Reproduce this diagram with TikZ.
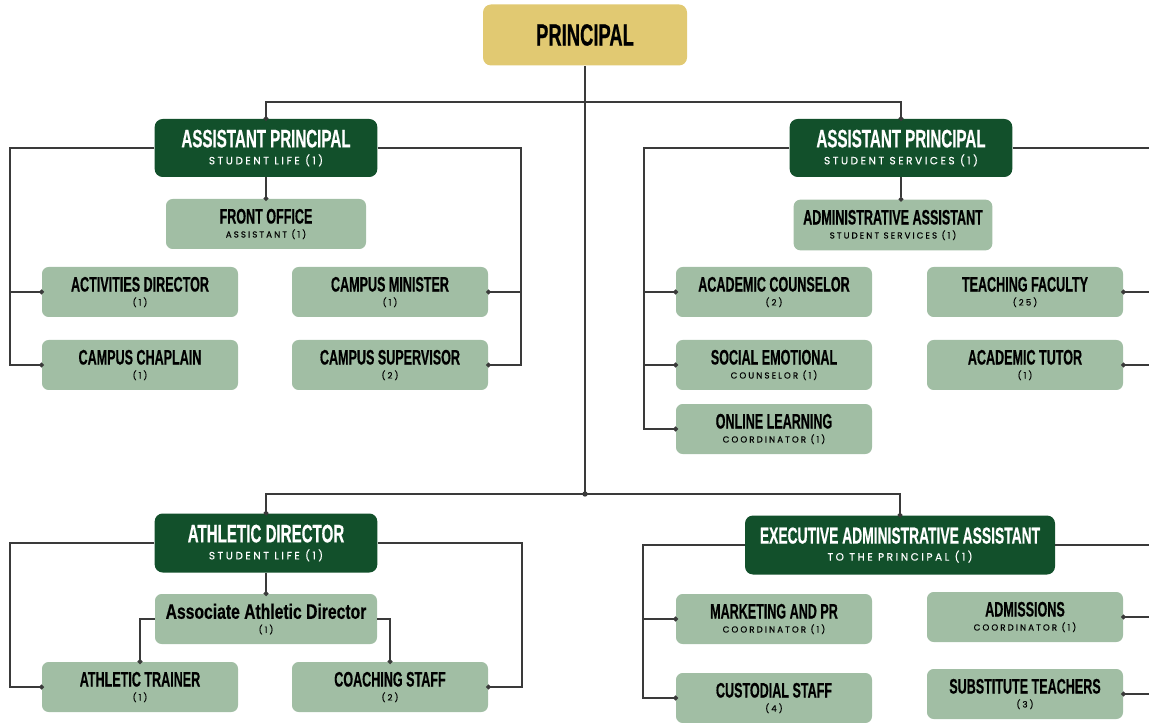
\documentclass[tikz,border=0pt]{standalone}
\usepackage{fontspec}
\usetikzlibrary{arrows.meta}

\newfontfamily\titlefont{Liberation Sans}[FakeStretch=0.6, FakeBold=0.5]
\newfontfamily\titlewide{Liberation Sans}[FakeStretch=0.75, FakeBold=0.5]
\newfontfamily\tagfont{Poppins}[LetterSpace=24, FakeBold=0.4]

\definecolor{gold}{HTML}{E1C972}
\definecolor{pine}{HTML}{12502B}
\definecolor{sage}{HTML}{A1BEA4}
\definecolor{wire}{HTML}{3A3A3A}

\newcommand{\leadrole}[2]{{\titlefont\bfseries\fontsize{18.9}{19}\selectfont #1}\\{\tagfont\fontsize{7.9}{8}\selectfont #2}}
\newcommand{\unitrole}[2]{{\titlefont\bfseries\fontsize{15.7}{16}\selectfont #1}\\{\tagfont\fontsize{6.5}{7}\selectfont #2}}

\tikzset{
  box/.style={rounded corners=5pt, align=center, inner sep=0pt},
  headbox/.style={box, rounded corners=6pt, fill=gold, minimum width=153pt, minimum height=45.75pt,
    font=\titlefont\bfseries\fontsize{23}{23}\selectfont},
  leadbox/.style={box, rounded corners=6pt, fill=pine, text=white, minimum width=167pt, minimum height=43.5pt,
    font=\fontsize{10}{12.75pt}\selectfont},
  unitbox/.style={box, fill=sage, minimum width=147pt, minimum height=37.5pt,
    font=\fontsize{10}{10.5pt}\selectfont},
  link/.style={draw=wire, line width=0.9pt},
  dot/.style={-{Circle[length=3.6pt]}, shorten >=-1.7pt}
}

\begin{document}
\begin{tikzpicture}[x=0.75pt, y=-0.75pt]
  \useasboundingbox (0,0) rectangle (1149,723);
  \clip (0,0) rectangle (1149,723);

  \node[headbox] (pr) at (585,35) {PRINCIPAL};

  % student life
  \node[leadbox] (ap1) at (266,148) {\leadrole{ASSISTANT PRINCIPAL}{STUDENT LIFE (1)}};
  \node[unitbox, minimum width=150pt] (fo) at (266,224) {\unitrole{FRONT OFFICE}{ASSISTANT (1)}};
  \node[unitbox] (act) at (140,292) {\unitrole{ACTIVITIES DIRECTOR}{(1)}};
  \node[unitbox] (chap) at (140,365) {\unitrole{CAMPUS CHAPLAIN}{(1)}};
  \node[unitbox] (min) at (390,292) {\unitrole{CAMPUS MINISTER}{(1)}};
  \node[unitbox] (sup) at (390,365) {\unitrole{CAMPUS SUPERVISOR}{(2)}};

  % student services
  \node[leadbox] (ap2) at (901,148) {\leadrole{ASSISTANT PRINCIPAL}{STUDENT SERVICES (1)}};
  \node[unitbox, minimum width=149pt, minimum height=38pt] (adm) at (893,225) {\unitrole{ADMINISTRATIVE ASSISTANT}{STUDENT SERVICES (1)}};
  \node[unitbox] (acc) at (774,292) {\unitrole{ACADEMIC COUNSELOR}{(2)}};
  \node[unitbox] (sec) at (774,365) {\unitrole{SOCIAL EMOTIONAL}{COUNSELOR (1)}};
  \node[unitbox] (onl) at (774,429) {\unitrole{ONLINE LEARNING}{COORDINATOR (1)}};
  \node[unitbox] (tea) at (1025,292) {\unitrole{TEACHING FACULTY}{(25)}};
  \node[unitbox] (tut) at (1025,365) {\unitrole{ACADEMIC TUTOR}{(1)}};

  % athletics
  \node[leadbox, minimum height=44.25pt] (ad) at (266,543) {\leadrole{ATHLETIC DIRECTOR}{STUDENT LIFE (1)}};
  \node[unitbox, minimum width=166.5pt] (asc) at (266,619) {\unitrole{\titlewide Associate Athletic Director}{(1)}};
  \node[unitbox] (trn) at (140,687) {\unitrole{ATHLETIC TRAINER}{(1)}};
  \node[unitbox] (cch) at (390,687) {\unitrole{COACHING STAFF}{(2)}};

  % principal's office
  \node[leadbox, minimum width=232.5pt, minimum height=44.25pt] (eaa) at (900,545)
    {\leadrole{\fontsize{17.3}{19}\selectfont EXECUTIVE ADMINISTRATIVE ASSISTANT}{TO THE PRINCIPAL (1)}};
  \node[unitbox] (mkt) at (774,619) {\unitrole{MARKETING AND PR}{COORDINATOR (1)}};
  \node[unitbox] (cus) at (774,698) {\unitrole{CUSTODIAL STAFF}{(4)}};
  \node[unitbox] (adms) at (1025,617) {\unitrole{ADMISSIONS}{COORDINATOR (1)}};
  \node[unitbox] (sub) at (1025,694) {\unitrole{SUBSTITUTE TEACHERS}{(3)}};

  % bus points
  \coordinate (j1) at (585,102);
  \coordinate (j2) at (585,494);
  \coordinate (sl-l) at (10,365);
  \coordinate (sl-r) at (521,365);
  \coordinate (ss-l) at (644,429);
  \coordinate (ss-r) at (1152,365);
  \coordinate (ad-l) at (10,687);
  \coordinate (ad-r) at (522,687);
  \coordinate (ea-l) at (643,698);
  \coordinate (ea-r) at (1152,694);

  \draw[link] (pr.south) -- (j2);
  \fill[wire] (j2) circle (2pt);
  \draw[link, dot] (j1) -| (ap1.north);
  \draw[link, dot] (j1) -| (ap2.north);
  \draw[link, dot] (j2) -| (ad.north);
  \draw[link, dot] (j2) -| (eaa.north);

  \draw[link, dot] (ap1.south) -- (fo.north);
  \draw[link, dot] (ap1.west) -| (sl-l) -- (chap.west);
  \draw[link, dot] (sl-l |- act.west) -- (act.west);
  \draw[link, dot] (ap1.east) -| (sl-r) -- (sup.east);
  \draw[link, dot] (sl-r |- min.east) -- (min.east);

  \draw[link, dot] (ap2.south) -- (ap2.south |- adm.north);
  \draw[link, dot] (ap2.west) -| (ss-l) -- (onl.west);
  \draw[link, dot] (ss-l |- acc.west) -- (acc.west);
  \draw[link, dot] (ss-l |- sec.west) -- (sec.west);
  \draw[link, dot] (ap2.east) -| (ss-r) -- (tut.east);
  \draw[link, dot] (ss-r |- tea.east) -- (tea.east);

  \draw[link, dot] (ad.south) -- (asc.north);
  \draw[link, dot] (asc.west) -| (trn.north);
  \draw[link, dot] (asc.east) -| (cch.north);
  \draw[link, dot] (ad.west) -| (ad-l) -- (trn.west);
  \draw[link, dot] (ad.east) -| (ad-r) -- (cch.east);

  \draw[link, dot] (eaa.west) -| (ea-l) -- (cus.west);
  \draw[link, dot] (ea-l |- mkt.west) -- (mkt.west);
  \draw[link, dot] (eaa.east) -| (ea-r) -- (sub.east);
  \draw[link, dot] (ea-r |- adms.east) -- (adms.east);
\end{tikzpicture}
\end{document}
